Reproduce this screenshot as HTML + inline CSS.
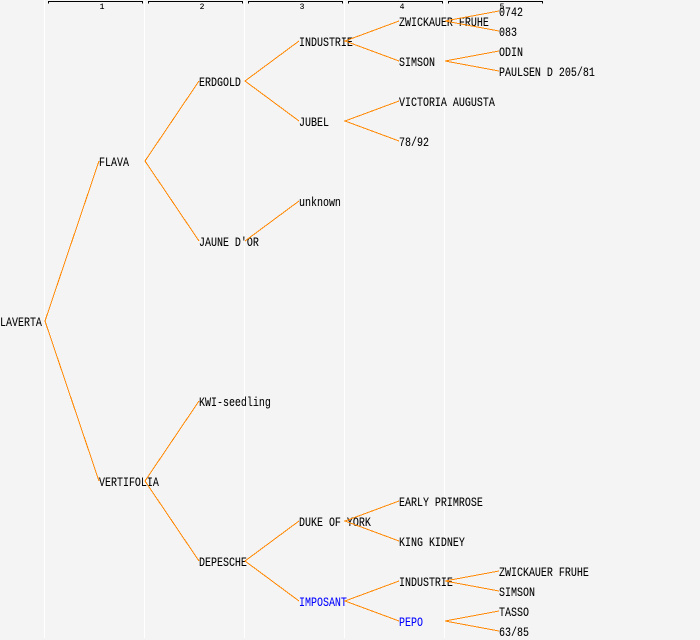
<!DOCTYPE html>
<html><head><meta charset="utf-8"><style>
html,body{margin:0;padding:0;background:#f4f4f4;width:700px;height:640px;overflow:hidden}
svg{display:block}
text{font-family:"Liberation Mono","DejaVu Sans Mono",monospace;font-size:12.5px;fill:#000;stroke:#000;stroke-width:.08px}
.b{fill:#0000ff;stroke:#0000ff}
.h{font-size:8px;text-anchor:middle;stroke-width:.1px}
</style></head><body>
<svg width="700" height="640" viewBox="0 0 700 640" xmlns="http://www.w3.org/2000/svg">
<rect width="700" height="640" fill="#f4f4f4"/>
<g fill="#ffffff">
<rect x="44" y="0" width="1" height="638"/>
<rect x="144" y="0" width="1" height="638"/>
<rect x="244" y="0" width="1" height="638"/>
<rect x="344" y="0" width="1" height="638"/>
<rect x="444" y="0" width="1" height="638"/>
</g>
<g fill="none" stroke="#000" stroke-width="1" shape-rendering="crispEdges">
<path d="M48.5 3.5V1.5H142.5V3.5"/>
<path d="M148.5 3.5V1.5H242.5V3.5"/>
<path d="M248.5 3.5V1.5H342.5V3.5"/>
<path d="M348.5 3.5V1.5H442.5V3.5"/>
<path d="M448.5 3.5V1.5H542.5V3.5"/>
</g>
<text class="h" x="102" y="9">1</text>
<text class="h" x="202" y="9">2</text>
<text class="h" x="302" y="9">3</text>
<text class="h" x="402" y="9">4</text>
<text class="h" x="502" y="9">5</text>
<text transform="translate(0 326) scale(.8 1)">LAVERTA</text>
<text transform="translate(99 166) scale(.8 1)">FLAVA</text>
<text transform="translate(99 486) scale(.8 1)">VERTIFOLIA</text>
<text transform="translate(199 86) scale(.8 1)">ERDGOLD</text>
<text transform="translate(199 246) scale(.8 1)">JAUNE D'OR</text>
<text transform="translate(199 406) scale(.8 1)">KWI-seedling</text>
<text transform="translate(199 566) scale(.8 1)">DEPESCHE</text>
<text transform="translate(299 46) scale(.8 1)">INDUSTRIE</text>
<text transform="translate(299 126) scale(.8 1)">JUBEL</text>
<text transform="translate(299 206) scale(.8 1)">unknown</text>
<text transform="translate(299 526) scale(.8 1)">DUKE OF YORK</text>
<text class="b" transform="translate(299 606) scale(.8 1)">IMPOSANT</text>
<text transform="translate(399 26) scale(.8 1)">ZWICKAUER FRUHE</text>
<text transform="translate(399 66) scale(.8 1)">SIMSON</text>
<text transform="translate(399 106) scale(.8 1)">VICTORIA AUGUSTA</text>
<text transform="translate(399 146) scale(.8 1)">78/92</text>
<text transform="translate(399 506) scale(.8 1)">EARLY PRIMROSE</text>
<text transform="translate(399 546) scale(.8 1)">KING KIDNEY</text>
<text transform="translate(399 586) scale(.8 1)">INDUSTRIE</text>
<text class="b" transform="translate(399 626) scale(.8 1)">PEPO</text>
<text transform="translate(499 16) scale(.8 1)">0742</text>
<text transform="translate(499 36) scale(.8 1)">083</text>
<text transform="translate(499 56) scale(.8 1)">ODIN</text>
<text transform="translate(499 76) scale(.8 1)">PAULSEN D 205/81</text>
<text transform="translate(499 576) scale(.8 1)">ZWICKAUER FRUHE</text>
<text transform="translate(499 596) scale(.8 1)">SIMSON</text>
<text transform="translate(499 616) scale(.8 1)">TASSO</text>
<text transform="translate(499 636) scale(.8 1)">63/85</text>
<g fill="none" stroke="#ff8800" stroke-width="1" shape-rendering="crispEdges">
<path d="M99 161L45 321L99 481"/>
<path d="M199 81L145 161L199 241"/>
<path d="M299 41L245 81L299 121"/>
<path d="M299 201L245 241"/>
<path d="M399 21L345 41L399 61"/>
<path d="M399 101L345 121L399 141"/>
<path d="M499 11L445 21L499 31"/>
<path d="M499 51L445 61L499 71"/>
<path d="M199 401L145 481L199 561"/>
<path d="M299 521L245 561L299 601"/>
<path d="M399 501L345 521L399 541"/>
<path d="M399 581L345 601L399 621"/>
<path d="M499 571L445 581L499 591"/>
<path d="M499 611L445 621L499 631"/>
</g>
</svg>
</body></html>
